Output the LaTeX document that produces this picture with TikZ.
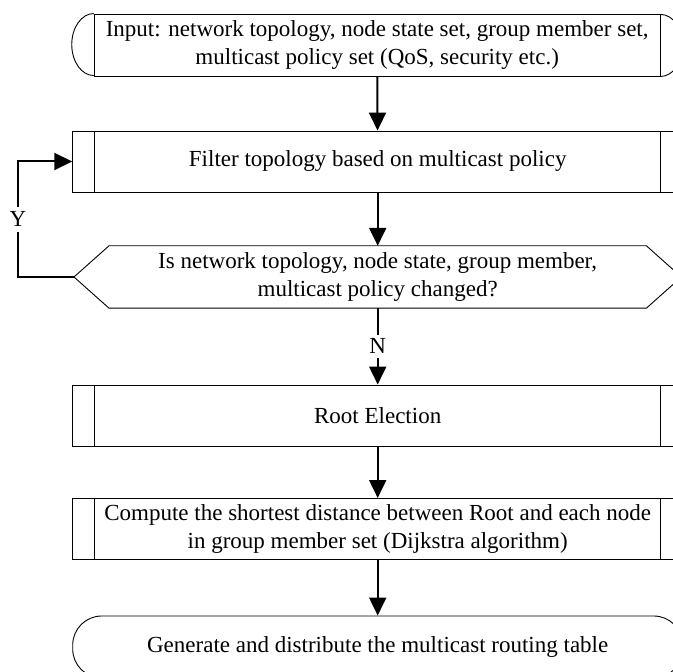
\documentclass[tikz,border=0pt]{standalone}
\usepackage{fontspec}
\setmainfont{Liberation Serif}
\usetikzlibrary{arrows.meta}

\begin{document}
\begin{tikzpicture}[x=1pt,y=1pt,
	font=\fontsize{23}{28}\selectfont,
	flow/.style={-{Triangle[length=18pt,width=17pt]}, line width=2pt},
	termbox/.style={draw, line width=0.9pt, minimum width=566pt, minimum height=62pt, inner sep=0pt, align=center},
	procbox/.style={draw, line width=0.9pt, minimum width=610pt, minimum height=61pt, inner sep=0pt, align=center,
		path picture={\draw[line width=0.9pt] ([xshift=22pt]path picture bounding box.north west) -- ([xshift=22pt]path picture bounding box.south west);
			\draw[line width=0.9pt] ([xshift=-22pt]path picture bounding box.north east) -- ([xshift=-22pt]path picture bounding box.south east);}},
	endbox/.style={draw, line width=0.9pt, rounded corners=29pt, minimum width=610pt, minimum height=62pt, inner sep=0pt, align=center}]
				\useasboundingbox (0,0) rectangle (673,672);
				\clip (0,0) rectangle (673,672);
				\node[termbox] (input) at (377.2,627) {Input: network topology, node state set, group member set,\\multicast policy set (QoS, security etc.)};
				\draw[line width=0.9pt] (input.north west) arc[start angle=90, end angle=270, x radius=22pt, y radius=31pt];
				\draw[line width=0.9pt] (input.south east) arc[start angle=-90, end angle=90, x radius=22pt, y radius=31pt];
				\node[procbox] (filter) at (377.7,510.5) {Filter topology based on multicast policy};
				\node[minimum width=537pt, minimum height=62pt, inner sep=0pt, align=center] (check) at (377.7,395) {Is network topology, node state, group member,\\multicast policy changed?};
				\coordinate (checkl) at ([xshift=-35pt]check.west);
				\coordinate (checkr) at ([xshift=35pt]check.east);
				\draw[line width=0.9pt] (check.north west) -- (check.north east) -- (checkr) -- (check.south east) -- (check.south west) -- (checkl) -- cycle;
				\node[procbox] (root) at (377.7,256.5) {Root Election};
				\node[procbox] (compute) at (377.7,143) {Compute the shortest distance between Root and each node\\in group member set (Dijkstra algorithm)};
				\node[endbox] (gen) at (377.7,25) {Generate and distribute the multicast routing table};
				\coordinate (loop) at (18,395);
				\draw[flow] (input) -- (filter);
				\draw[flow] (filter) -- (check.north);
				\draw[flow] (checkl) -- (loop) |- node[pos=0.25, fill=white, inner sep=5pt] {Y} (filter.west);
				\draw[flow] (check.south) -- node[fill=white, inner sep=4pt] {N} (root.north);
				\draw[flow] (root) -- (compute);
				\draw[flow] (compute) -- (gen);
			\end{tikzpicture}
\end{document}
